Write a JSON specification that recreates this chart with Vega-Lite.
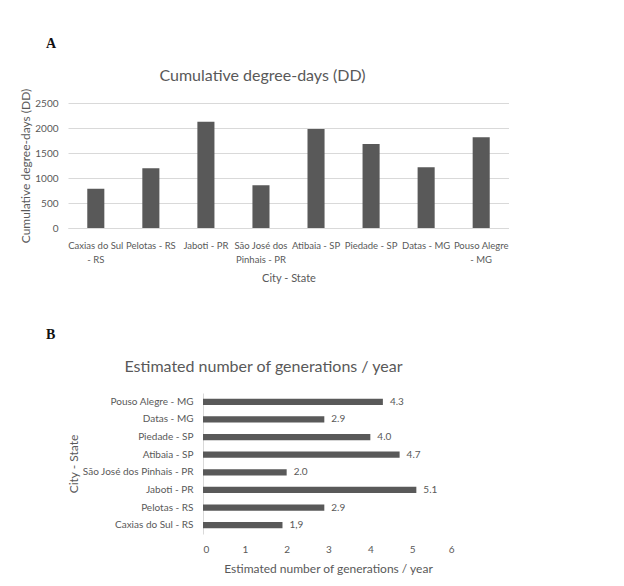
{
  "$schema": "https://vega.github.io/schema/vega-lite/v6.json",
  "background": "white",
  "padding": {"left": 19, "top": 37, "right": 0, "bottom": 8},
  "config": {
    "font": "Lato",
    "view": {"stroke": null},
    "axis": {"labelColor": "#595959", "titleColor": "#595959", "labelFont": "Lato", "titleFont": "Lato", "labelFontSize": 10, "titleFontSize": 11, "titleFontWeight": "normal", "ticks": false},
    "title": {"font": "Liberation Serif", "fontWeight": "bold", "fontSize": 14, "color": "#111111", "anchor": "start", "frame": "group", "dx": -22, "offset": 16}
  },
  "spacing": 44,
  "vconcat": [
    {
      "width": 441,
      "height": 125,
      "title": {"text": "A"},
      "data": {"values": [
        {"city": "Caxias do Sul - RS", "dd": 785},
        {"city": "Pelotas - RS", "dd": 1195},
        {"city": "Jaboti - PR", "dd": 2125},
        {"city": "São José dos Pinhais - PR", "dd": 855},
        {"city": "Atibaia - SP", "dd": 1980},
        {"city": "Piedade - SP", "dd": 1680},
        {"city": "Datas - MG", "dd": 1215},
        {"city": "Pouso Alegre - MG", "dd": 1815}
      ]},
      "encoding": {
        "y": {"field": "dd", "type": "quantitative", "scale": {"domain": [0, 2500]},
          "axis": {"title": "Cumulative degree-days (DD)", "titleFontSize": 12, "values": [0, 500, 1000, 1500, 2000, 2500], "format": "d", "domain": false, "gridColor": "#d9d9d9", "labelPadding": 10, "titlePadding": 2}}
      },
      "layer": [
        {
          "mark": {"type": "bar", "color": "#595959"},
          "encoding": {
            "x": {"field": "city", "type": "nominal", "sort": null, "scale": {"paddingInner": 0.69, "paddingOuter": 0.35},
              "axis": {"orient": "bottom", "title": "City - State", "labelAngle": 0, "labelFontSize": 9.5, "labelPadding": 12, "labelLineHeight": 14, "titlePadding": 9, "domainColor": "#d9d9d9",
                "labelExpr": "datum.value == 'Caxias do Sul - RS' ? ['Caxias do Sul', '- RS'] : datum.value == 'São José dos Pinhais - PR' ? ['São José dos', 'Pinhais - PR'] : datum.value == 'Pouso Alegre - MG' ? ['Pouso Alegre', '- MG'] : datum.value"}}
          }
        },
        {
          "mark": {"type": "bar", "opacity": 0},
          "encoding": {
            "x": {"field": "city", "type": "nominal", "sort": null,
              "axis": {"orient": "top", "labels": false, "domain": false, "grid": false, "title": "Cumulative degree-days (DD)", "titleFontSize": 16, "titlePadding": 20, "titleX": 194}}
          }
        }
      ],
      "resolve": {"axis": {"x": "independent"}}
    },
    {
      "width": 386,
      "height": 141,
      "title": {"text": "B"},
      "data": {"values": [
        {"city": "Pouso Alegre - MG", "gen": 4.3, "label": "4.3"},
        {"city": "Datas - MG", "gen": 2.9, "label": "2.9"},
        {"city": "Piedade - SP", "gen": 4.0, "label": "4.0"},
        {"city": "Atibaia - SP", "gen": 4.7, "label": "4.7"},
        {"city": "São José dos Pinhais - PR", "gen": 2.0, "label": "2.0"},
        {"city": "Jaboti - PR", "gen": 5.1, "label": "5.1"},
        {"city": "Pelotas - RS", "gen": 2.9, "label": "2.9"},
        {"city": "Caxias do Sul - RS", "gen": 1.9, "label": "1,9"}
      ]},
      "encoding": {
        "y": {"field": "city", "type": "nominal", "sort": null, "scale": {"paddingInner": 0.64, "paddingOuter": 0.32},
          "axis": {"title": "City - State", "titleFontSize": 12, "offset": -135, "labelPadding": 10, "titlePadding": 2, "domainColor": "#d9d9d9", "grid": false}}
      },
      "layer": [
        {
          "mark": {"type": "bar", "color": "#595959"},
          "encoding": {
            "x": {"field": "gen", "type": "quantitative", "scale": {"domain": [0, 6], "range": [135, 386]},
              "axis": {"orient": "bottom", "title": "Estimated number of generations / year", "titleFontSize": 12, "titleX": 260, "values": [0, 1, 2, 3, 4, 5, 6], "grid": false, "domain": false, "labelPadding": 10, "titlePadding": 9}}
          }
        },
        {
          "mark": {"type": "text", "align": "left", "baseline": "middle", "dx": 7, "fontSize": 10, "color": "#595959"},
          "encoding": {
            "x": {"field": "gen", "type": "quantitative", "axis": null},
            "text": {"field": "label"}
          }
        },
        {
          "mark": {"type": "bar", "opacity": 0},
          "encoding": {
            "x": {"field": "gen", "type": "quantitative",
              "axis": {"orient": "top", "labels": false, "domain": false, "grid": false, "title": "Estimated number of generations / year", "titleFontSize": 16, "titlePadding": 19, "titleX": 195}}
          }
        }
      ],
      "resolve": {"axis": {"x": "independent"}}
    }
  ]
}
